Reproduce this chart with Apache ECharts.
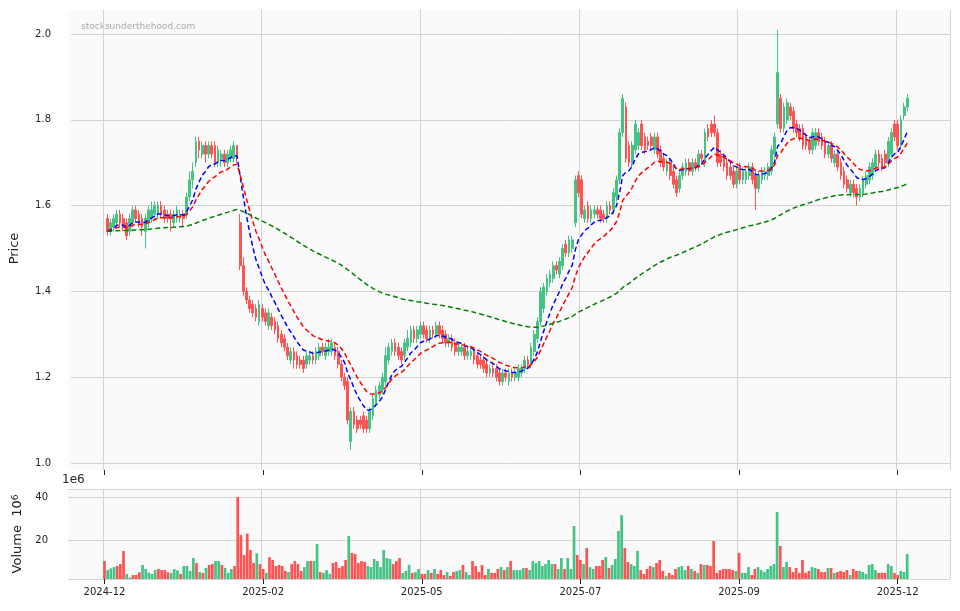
<!DOCTYPE html>
<html>
<head>
<meta charset="utf-8">
<script src="https://cdn.jsdelivr.net/npm/echarts@6/dist/echarts.min.js"></script>
<style>
  html, body { margin: 0; padding: 0; background: #fff; }
  #chart { width: 960px; height: 611px; }
</style>
</head>
<body>
<div id="chart"></div>
<script>
// candles: [open, close, low, high]
const candles = [
  [1.57,1.54,1.53,1.58],[1.54,1.56,1.53,1.57],[1.55,1.57,1.54,1.58],[1.56,1.58,1.55,1.59],[1.58,1.56,1.55,1.59],
  [1.57,1.55,1.54,1.58],[1.56,1.53,1.52,1.57],[1.54,1.57,1.53,1.58],[1.56,1.59,1.55,1.60],[1.59,1.57,1.56,1.60],
  [1.58,1.56,1.55,1.59],[1.57,1.55,1.53,1.58],[1.54,1.57,1.50,1.58],[1.56,1.59,1.55,1.60],[1.57,1.59,1.56,1.61],
  [1.58,1.60,1.57,1.61],[1.58,1.60,1.57,1.61],[1.60,1.58,1.57,1.61],[1.59,1.57,1.56,1.60],[1.58,1.57,1.56,1.59],
  [1.58,1.57,1.54,1.59],[1.56,1.58,1.55,1.59],[1.57,1.59,1.56,1.60],[1.57,1.58,1.56,1.59],[1.58,1.57,1.55,1.59],
  [1.58,1.62,1.57,1.63],[1.62,1.66,1.61,1.68],[1.66,1.68,1.64,1.70],[1.70,1.75,1.69,1.76],[1.75,1.73,1.71,1.76],
  [1.72,1.74,1.71,1.75],[1.74,1.72,1.70,1.75],[1.72,1.74,1.71,1.75],[1.74,1.72,1.71,1.75],[1.74,1.70,1.69,1.75],
  [1.70,1.73,1.69,1.74],[1.71,1.72,1.69,1.73],[1.72,1.70,1.69,1.73],[1.70,1.72,1.69,1.73],[1.71,1.73,1.70,1.74],
  [1.71,1.74,1.70,1.75],[1.74,1.71,1.70,1.74],
  [1.56,1.46,1.45,1.58],[1.46,1.40,1.39,1.48],[1.40,1.38,1.37,1.41],[1.38,1.36,1.35,1.39],[1.37,1.35,1.34,1.38],
  [1.36,1.34,1.33,1.37],[1.33,1.37,1.32,1.38],[1.36,1.34,1.33,1.37],[1.35,1.33,1.32,1.36],[1.32,1.35,1.31,1.36],
  [1.34,1.32,1.31,1.35],[1.33,1.31,1.30,1.34],[1.32,1.29,1.28,1.33],[1.30,1.28,1.27,1.31],[1.29,1.27,1.26,1.30],
  [1.27,1.25,1.24,1.28],[1.24,1.26,1.23,1.27],[1.26,1.24,1.22,1.27],[1.25,1.23,1.22,1.26],[1.24,1.23,1.22,1.25],
  [1.24,1.22,1.21,1.25],[1.23,1.25,1.22,1.26],[1.24,1.25,1.23,1.26],[1.25,1.24,1.23,1.26],[1.24,1.26,1.23,1.27],
  [1.25,1.27,1.24,1.28],[1.27,1.26,1.25,1.28],[1.25,1.27,1.24,1.28],[1.26,1.27,1.25,1.29],[1.26,1.28,1.25,1.29],
  [1.27,1.25,1.24,1.28],[1.26,1.23,1.22,1.27],[1.23,1.20,1.19,1.24],[1.20,1.18,1.17,1.21],[1.19,1.10,1.09,1.20],
  [1.05,1.12,1.03,1.13],[1.12,1.09,1.08,1.13],[1.10,1.08,1.07,1.11],[1.10,1.09,1.08,1.11],[1.11,1.08,1.07,1.12],
  [1.10,1.08,1.07,1.11],[1.08,1.12,1.07,1.13],[1.11,1.15,1.10,1.16],[1.14,1.17,1.13,1.18],[1.16,1.18,1.15,1.19],
  [1.17,1.20,1.16,1.21],[1.19,1.25,1.18,1.27],[1.24,1.27,1.23,1.28],[1.26,1.28,1.25,1.29],[1.28,1.26,1.25,1.29],
  [1.27,1.25,1.24,1.28],[1.26,1.24,1.23,1.27],[1.25,1.28,1.24,1.29],[1.27,1.29,1.26,1.31],[1.28,1.31,1.27,1.32],
  [1.31,1.29,1.28,1.32],[1.29,1.31,1.28,1.32],[1.30,1.32,1.29,1.33],[1.32,1.30,1.29,1.33],[1.31,1.29,1.28,1.32],
  [1.29,1.31,1.28,1.32],[1.31,1.30,1.29,1.32],[1.30,1.32,1.29,1.33],[1.32,1.30,1.29,1.33],[1.31,1.29,1.28,1.32],
  [1.30,1.28,1.27,1.31],[1.28,1.29,1.27,1.30],[1.29,1.27,1.26,1.30],[1.28,1.26,1.25,1.29],[1.26,1.27,1.25,1.28],
  [1.26,1.27,1.25,1.28],[1.27,1.25,1.24,1.28],[1.25,1.26,1.24,1.27],[1.25,1.26,1.24,1.27],[1.26,1.24,1.23,1.27],
  [1.25,1.23,1.22,1.26],[1.24,1.23,1.22,1.25],[1.24,1.22,1.21,1.25],[1.23,1.21,1.20,1.24],[1.21,1.22,1.20,1.23],
  [1.22,1.21,1.20,1.23],[1.22,1.20,1.19,1.23],[1.21,1.19,1.18,1.22],[1.19,1.21,1.18,1.22],[1.21,1.20,1.19,1.22],
  [1.19,1.21,1.18,1.22],[1.21,1.20,1.19,1.22],[1.20,1.21,1.19,1.22],[1.20,1.22,1.19,1.23],[1.21,1.22,1.20,1.23],
  [1.22,1.24,1.21,1.25],[1.24,1.23,1.22,1.25],[1.23,1.27,1.22,1.28],[1.26,1.30,1.25,1.31],[1.29,1.33,1.28,1.34],
  [1.33,1.40,1.32,1.41],[1.36,1.41,1.35,1.42],[1.40,1.43,1.39,1.44],[1.42,1.44,1.41,1.45],[1.43,1.46,1.42,1.47],
  [1.46,1.45,1.44,1.47],[1.44,1.47,1.43,1.48],[1.46,1.50,1.45,1.51],[1.51,1.49,1.48,1.52],[1.49,1.52,1.48,1.53],
  [1.50,1.52,1.49,1.53],[1.56,1.66,1.55,1.67],[1.67,1.63,1.62,1.68],[1.66,1.58,1.57,1.67],[1.57,1.59,1.56,1.60],
  [1.60,1.57,1.56,1.61],[1.57,1.59,1.56,1.60],[1.58,1.59,1.57,1.60],[1.59,1.58,1.57,1.60],[1.59,1.57,1.56,1.60],
  [1.58,1.57,1.56,1.59],[1.57,1.60,1.56,1.61],[1.60,1.59,1.58,1.61],[1.59,1.63,1.58,1.64],[1.62,1.66,1.61,1.67],
  [1.66,1.77,1.65,1.78],[1.77,1.85,1.76,1.86],[1.83,1.71,1.70,1.84],[1.74,1.70,1.69,1.75],[1.70,1.74,1.69,1.75],
  [1.73,1.79,1.72,1.80],[1.74,1.77,1.73,1.78],[1.79,1.74,1.73,1.80],[1.76,1.73,1.72,1.77],
  [1.75,1.74,1.73,1.76],[1.76,1.74,1.73,1.77],[1.73,1.76,1.72,1.77],[1.76,1.72,1.71,1.77],[1.73,1.70,1.69,1.74],
  [1.71,1.69,1.68,1.72],[1.68,1.70,1.67,1.71],[1.70,1.67,1.66,1.71],[1.68,1.65,1.64,1.69],[1.66,1.63,1.62,1.67],
  [1.64,1.67,1.63,1.68],[1.67,1.69,1.66,1.70],[1.68,1.70,1.67,1.71],[1.70,1.68,1.67,1.71],[1.68,1.70,1.67,1.71],
  [1.70,1.69,1.68,1.71],[1.69,1.72,1.68,1.73],[1.72,1.71,1.70,1.73],[1.70,1.77,1.69,1.78],[1.78,1.76,1.75,1.79],
  [1.79,1.77,1.76,1.80],[1.79,1.77,1.76,1.81],[1.77,1.70,1.69,1.78],[1.72,1.70,1.69,1.73],[1.71,1.69,1.68,1.72],
  [1.70,1.67,1.66,1.71],[1.69,1.67,1.66,1.70],[1.68,1.65,1.64,1.69],[1.65,1.68,1.64,1.69],
  [1.69,1.66,1.65,1.70],[1.66,1.68,1.65,1.69],[1.66,1.68,1.65,1.69],[1.67,1.69,1.66,1.70],[1.69,1.66,1.65,1.70],
  [1.67,1.64,1.59,1.68],[1.64,1.67,1.63,1.68],[1.66,1.68,1.65,1.69],[1.67,1.68,1.66,1.69],[1.67,1.69,1.66,1.70],
  [1.68,1.73,1.67,1.74],[1.72,1.76,1.71,1.77],[1.79,1.91,1.78,2.01],[1.85,1.78,1.77,1.86],[1.78,1.83,1.77,1.84],
  [1.80,1.84,1.79,1.85],[1.83,1.81,1.80,1.84],[1.82,1.78,1.77,1.83],[1.79,1.77,1.76,1.80],[1.78,1.76,1.75,1.79],
  [1.78,1.74,1.73,1.79],[1.76,1.74,1.73,1.77],[1.75,1.73,1.72,1.76],[1.73,1.77,1.72,1.78],[1.74,1.77,1.73,1.78],
  [1.77,1.75,1.74,1.78],[1.76,1.74,1.73,1.77],[1.75,1.72,1.71,1.76],[1.72,1.74,1.71,1.75],[1.74,1.71,1.70,1.75],
  [1.70,1.72,1.69,1.73],[1.72,1.69,1.68,1.73],[1.70,1.67,1.66,1.71],[1.68,1.65,1.64,1.69],[1.66,1.64,1.63,1.67],
  [1.63,1.65,1.62,1.66],[1.65,1.63,1.62,1.66],[1.64,1.62,1.60,1.65],[1.62,1.64,1.61,1.65],[1.63,1.66,1.62,1.67],
  [1.65,1.67,1.64,1.68],[1.66,1.69,1.65,1.70],[1.67,1.70,1.66,1.71],[1.69,1.72,1.68,1.73],[1.72,1.70,1.69,1.73],
  [1.71,1.69,1.68,1.72],[1.72,1.70,1.69,1.73],[1.70,1.75,1.69,1.76],[1.72,1.77,1.71,1.78],[1.79,1.76,1.75,1.80],
  [1.79,1.74,1.73,1.80],[1.74,1.80,1.73,1.81],[1.81,1.83,1.80,1.84],[1.83,1.85,1.82,1.86]
];

// volume in millions
const volumes = [
  10.2,6,6.8,7.4,7.9,8.8,14.9,4.2,2.6,3.7,3.7,5,8.4,6.5,4.8,4.2,6,6.5,6,6,5,4.7,6.5,5.9,4.2,
  7.9,7.9,5.6,11.6,9.3,5.1,4.7,7,8.4,8.8,10.2,10.2,8.4,7,4.7,6.5,7.9,
  40,22.3,13,23,15.3,9.3,13.8,8.8,6.5,4.7,12,10.7,7.9,8.4,7.9,5.6,5.1,8.8,10.2,8.8,5.6,7.4,10.2,10.2,10.2,18.1,
  5.1,4.7,6,4.2,9.3,9.8,7,7.9,10.7,21.9,14,13.5,9.3,10.2,9.8,7.9,7.4,11.2,10.2,7.4,15.3,11.6,11.2,8.8,10.2,11.6,
  4.7,5.6,8.4,4.7,5.1,6.5,4.2,4.2,6,4.7,6.5,4.2,6,3.7,5.1,3.3,5.1,5.6,6,8.4,5.1,3.7,10.2,7.9,5.1,8.4,3.7,6.5,
  4.7,4.7,6.5,7.4,6,
  7.4,10.2,6,6,6,7,7,6,10.2,9.3,10.2,7.9,8.8,10.7,8.8,8.8,6.5,11.6,6.5,11.6,6.5,26.5,13,10.7,8.8,16.3,7.4,6.5,
  7.9,7.9,10.7,12.1,7,8.4,11.2,24.2,31.6,16.3,9.8,8.8,7.9,14.9,6,4.2,6.5,7.9,7.4,9.3,10.7,5.6,3.3,4.7,3.7,6.5,
  7.4,7.9,6,7.9,6.5,5.6,4.7,8.8,8.4,8.4,7.9,19.5,4.7,6,6.5,6.5,6.5,6,5.6,14,4.7,4.7,7.4,3.7,6.5,7.4,6,5.1,6.5,
  7.9,8.8,33,17.2,7.4,9.8,7.4,5.1,7,4.7,10.7,4.7,5.6,7.4,7,6.5,5.1,5.1,7,7,4.7,5.1,5.6,5.1,6,3.7,6.5,5.6,5.6,
  5.1,4.2,8.4,8.8,6,4.7,4.7,4.7,8.8,7.9,4.7,3.7,5.6,5.1,13.5
];

const tickLabels = ['2024-12', '2025-02', '2025-05', '2025-07', '2025-09', '2025-12'];
const tickStep = 50;
const padLeft = 11;
const padRight = 13;

const upColor = '#43c486';
const downColor = '#ff5252';

const ema = (vals, span) => {
    const a = 2 / (span + 1);
    let out = [], prev = vals[0];
    for (let v of vals) {
        prev = a * v + (1 - a) * prev;
        out.push(+prev.toFixed(4));
    }
    return out;
};

const closes = candles.map(c => c[1]);
const pad = arr => Array(padLeft).fill('-').concat(arr, Array(padRight).fill('-'));
const n = candles.length;
const cats = [];
for (let i = 0; i < padLeft + n + padRight; i++) cats.push('c' + i);

const isTick = idx => idx >= padLeft && (idx - padLeft) % tickStep === 0 && (idx - padLeft) / tickStep < tickLabels.length;
const tickText = (v, idx) => isTick(idx) ? tickLabels[(idx - padLeft) / tickStep] : '';

const font = 'DejaVu Sans';
const gridColor = '#d3d3d3';

const volData = volumes.map((v, i) => ({
    value: v,
    itemStyle: { color: candles[i] && candles[i][1] < candles[i][0] ? downColor : upColor }
}));

const dash = [5, 3];

const chart = echarts.init(document.getElementById('chart'));
chart.setOption({
    animation: false,
    textStyle: { fontFamily: font },
    graphic: [
        { type: 'rect', z: -10, shape: { x: 68, y: 10, width: 882, height: 460 }, style: { fill: '#fafafa' } },
        { type: 'rect', z: -10, shape: { x: 68, y: 489, width: 882, height: 90 }, style: { fill: '#fafafa' } },
        { type: 'text', left: 81, top: 22, style: { text: 'stocksunderthehood.com', fill: '#aaaaaa', font: '9px DejaVu Sans' } },
        { type: 'text', left: 62, top: 474, style: { text: '1e6', fill: '#222', font: '12px DejaVu Sans' } }
    ],
    grid: [
        { left: 68, right: 10, top: 34, bottom: 148 },   // price data
        { left: 68, right: 10, top: 10, bottom: 141 },   // price panel lines
        { left: 68, right: 10, top: 489, bottom: 32 }    // volume
    ],
    xAxis: [
        { type: 'category', gridIndex: 0, data: cats, show: false },
        {
            type: 'category', gridIndex: 1, data: cats,
            axisLine: { show: false },
            axisTick: { show: true, length: 5, alignWithLabel: true, interval: isTick, lineStyle: { color: '#222' } },
            axisLabel: { show: false, interval: isTick },
            splitLine: { show: true, interval: isTick, lineStyle: { color: gridColor } }
        },
        {
            type: 'category', gridIndex: 2, data: cats,
            axisLine: { show: false },
            axisTick: { show: true, length: 5, alignWithLabel: true, interval: isTick, lineStyle: { color: '#222' } },
            axisLabel: { interval: isTick, formatter: tickText, fontSize: 10, color: '#222', margin: 8 },
            splitLine: { show: true, interval: isTick, lineStyle: { color: gridColor } }
        }
    ],
    yAxis: [
        {
            type: 'value', gridIndex: 0, min: 1, max: 2, interval: 0.2,
            name: 'Price', nameLocation: 'middle', nameRotate: 90, nameGap: 50,
            nameTextStyle: { fontSize: 13, color: '#222' },
            axisLine: { show: false }, axisTick: { show: false },
            axisLabel: { formatter: v => v.toFixed(1), fontSize: 10, color: '#222', margin: 20 },
            splitLine: { lineStyle: { color: gridColor } }
        },
        { type: 'value', gridIndex: 1, show: false, splitLine: { show: false } },
        {
            type: 'value', gridIndex: 2, min: 1.86, max: 43.7, splitNumber: 2,
            name: 'Volume  10{s|6}', nameLocation: 'middle', nameRotate: 90, nameGap: 43,
            nameTextStyle: { fontSize: 13, color: '#222', rich: { s: { fontSize: 9, verticalAlign: 'top', color: '#222' } } },
            axisLine: { show: false }, axisTick: { show: false },
            axisLabel: { showMinLabel: false, showMaxLabel: false, fontSize: 10, color: '#222', margin: 20 },
            splitLine: { lineStyle: { color: gridColor } }
        }
    ],
    series: [
        {
            type: 'candlestick', xAxisIndex: 0, yAxisIndex: 0, clip: false,
            barWidth: '70%',
            itemStyle: { color: upColor, color0: downColor, borderColor: upColor, borderColor0: downColor, borderWidth: 1 },
            data: pad(candles)
        },
        { type: 'line', xAxisIndex: 0, yAxisIndex: 0, data: pad(ema(closes, 10)), showSymbol: false, lineStyle: { color: '#0000ff', width: 1.5, type: dash } },
        { type: 'line', xAxisIndex: 0, yAxisIndex: 0, data: pad(ema(closes, 18)), showSymbol: false, lineStyle: { color: '#ff0000', width: 1.5, type: dash } },
        { type: 'line', xAxisIndex: 0, yAxisIndex: 0, data: pad(ema(closes, 120)), showSymbol: false, lineStyle: { color: '#008000', width: 1.5, type: dash } },
        { type: 'bar', xAxisIndex: 2, yAxisIndex: 2, barWidth: '85%', data: pad(volData) }
    ]
});
</script>
</body>
</html>
